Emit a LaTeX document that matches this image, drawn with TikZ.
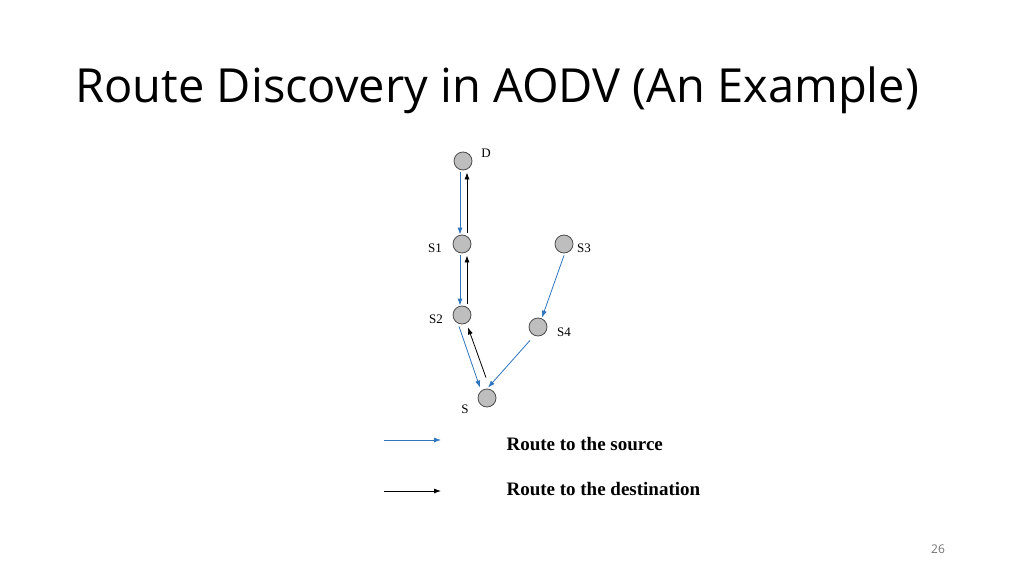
\documentclass[tikz,border=0pt]{standalone}
\usepackage{fontspec}
\setmainfont{Liberation Serif}
\newfontfamily\titlefont{Open Sans}
\usetikzlibrary{arrows.meta,positioning}
\definecolor{routeblue}{RGB}{46,117,190}
\definecolor{nodegray}{RGB}{190,190,190}
\tikzset{
    x=1pt, y=-1pt,
    }

\begin{document}
\begin{tikzpicture}[
hostnode/.style={circle, draw=black!70, fill=nodegray, thick, minimum size=18pt, inner sep=0pt},
hostlabel/.style={font=\fontsize{13}{15}\selectfont},
toSource/.style={routeblue, thick, -{Latex[length=7pt,width=5pt]}},
toDest/.style={black, thick, -{Latex[length=7pt,width=5pt]}},
legendtext/.style={font=\bfseries\fontsize{19}{22}\selectfont, anchor=west},
]
\useasboundingbox (0,0) rectangle (1024,575);
\node[anchor=west, font=\titlefont\fontsize{47}{54}\selectfont] (title) at (72,90) {Route Discovery in AODV (An Example)};

% hosts
\node[hostnode] (D) at (463,161) {};
\node[hostnode] (S1) at (462,244) {};
\node[hostnode] (S3) at (564,244) {};
\node[hostnode] (S2) at (462,315) {};
\node[hostnode] (S4) at (538,327) {};
\node[hostnode] (S) at (487,398) {};

\node[hostlabel] (labD) at (486,153) {D};
\node[hostlabel] (labS1) at (435,248) {S1};
\node[hostlabel] (labS3) at (584,248) {S3};
\node[hostlabel] (labS2) at (436,319) {S2};
\node[hostlabel] (labS4) at (564,332) {S4};
\node[hostlabel] (labS) at (465,409) {S};

% route to the source
\draw[toSource] ([xshift=-3pt,yshift=-2pt]D.south) -- ([xshift=-2pt]S1.north);
\draw[toSource] ([xshift=-2pt,yshift=-2pt]S1.south) -- ([xshift=-2pt]S2.north);
\draw[toSource] ([xshift=-3pt,yshift=-2pt]S2.south) -- ([xshift=-7pt,yshift=1pt]S.north);
\draw[toSource] ([yshift=-2pt]S3.south) -- ([xshift=4pt]S4.north);
\draw[toSource] ([xshift=-8pt,yshift=-4pt]S4.south) -- ([xshift=1pt,yshift=1pt]S.north);

% route to the destination
\draw[toDest] ([xshift=5pt,yshift=2pt]S1.north) -- ([xshift=4pt,yshift=-2pt]D.south);
\draw[toDest] ([xshift=5pt,yshift=2pt]S2.north) -- ([xshift=5pt,yshift=-2pt]S1.south);
\draw[toDest] ([xshift=-1pt,yshift=11pt]S.north) -- ([xshift=6pt,yshift=-3pt]S2.south);

% legend
\coordinate (srcA) at (384,440);
\coordinate (srcB) at (441,440);
\coordinate (dstA) at (384,491);
\coordinate (dstB) at (441,491);
\draw[toSource] (srcA) -- (srcB);
\draw[toDest] (dstA) -- (dstB);
\node[legendtext] (srcText) at (503,444) {Route to the source};
\node[legendtext] (dstText) at (503,489) {Route to the destination};

\node[font=\titlefont\fontsize{12}{14}\selectfont, text=black!55] (page) at (938,549) {26};
\end{tikzpicture}
\end{document}
